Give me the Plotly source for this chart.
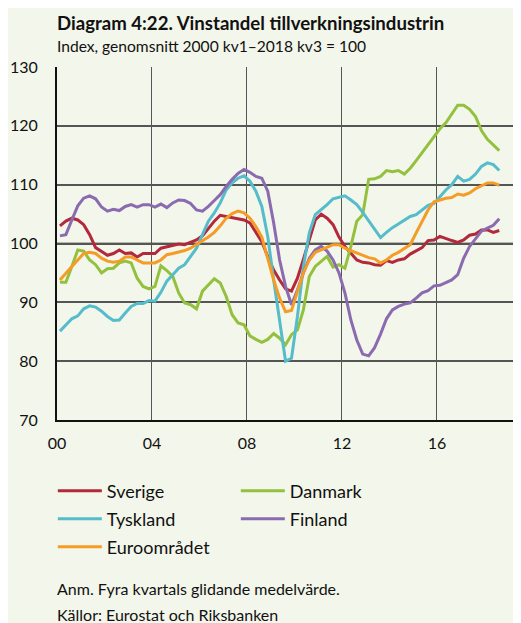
import plotly.graph_objects as go

# kvartal 2000 kv1 - 2018 kv3, fyra kvartals glidande medelvärde
quarters = [f"{2000 + i // 4}K{i % 4 + 1}" for i in range(75)]

sverige = [
    103.0, 103.8, 104.3, 104.0, 103.2, 101.5, 99.3, 98.7, 98.0, 98.3,
    98.9, 98.3, 98.4, 97.7, 98.3, 98.3, 98.3, 99.2, 99.4, 99.6,
    99.9, 99.8, 100.2, 100.6, 101.3, 102.5, 103.8, 104.8, 104.6, 104.5,
    104.3, 104.0, 103.5, 101.8, 100.3, 97.8, 95.5, 93.8, 92.3, 91.9,
    94.1, 97.3, 100.6, 104.0, 105.0, 104.3, 103.2, 101.1, 99.5, 98.3,
    97.2, 96.8, 96.7, 96.4, 96.3, 97.1, 96.8, 97.2, 97.4, 98.2,
    98.7, 99.3, 100.5, 100.6, 101.2, 100.8, 100.5, 100.2, 100.6, 101.4,
    101.6, 102.3, 102.3, 101.9, 102.2,
]
tyskland = [
    85.1, 86.2, 87.2, 87.7, 88.9, 89.4, 89.2, 88.5, 87.6, 86.9,
    87.0, 88.2, 89.3, 89.8, 89.8, 90.3, 90.2, 91.7, 93.6, 94.7,
    95.8, 96.4, 97.7, 99.2, 101.5, 103.8, 105.2, 106.9, 109.1, 110.3,
    111.1, 111.5, 110.6, 108.9, 106.3, 101.2, 93.8, 87.0, 80.0, 80.5,
    87.6, 96.1, 101.8, 104.9, 105.7, 106.6, 107.6, 107.8, 108.1, 107.4,
    106.6, 105.3, 103.9, 102.3, 101.0, 101.9, 102.7, 103.3, 104.0, 104.6,
    104.9, 105.7, 106.5, 106.8, 108.0, 109.1, 110.0, 111.4, 110.6, 110.9,
    111.8, 113.1, 113.7, 113.4, 112.4,
]
euroomradet = [
    93.8, 95.0, 96.1, 97.2, 98.3, 98.5, 98.3, 97.5, 97.0, 96.8,
    97.0, 97.7, 97.7, 97.2, 96.7, 96.7, 96.7, 97.2, 98.1, 98.3,
    98.5, 98.8, 99.2, 99.8, 100.4, 101.1, 101.9, 103.0, 104.3, 105.1,
    105.5, 105.2, 104.3, 102.9, 101.1, 97.5, 93.8, 90.7, 88.4, 88.6,
    91.6, 95.0, 97.2, 98.5, 98.9, 99.4, 99.8, 99.8, 99.2, 98.8,
    98.4, 98.1, 97.6, 97.4, 96.7, 97.2, 98.0, 98.5, 99.1, 99.8,
    101.8, 103.8, 105.7, 107.1, 107.4, 107.7, 107.8, 108.4, 108.2, 108.6,
    109.3, 109.8, 110.3, 110.3, 109.9,
]
danmark = [
    93.4, 93.4, 96.1, 98.9, 98.7, 97.2, 96.4, 95.0, 95.7, 95.8,
    96.7, 97.0, 96.7, 94.1, 92.7, 92.3, 92.7, 96.2, 95.4, 94.4,
    91.6, 89.9, 89.6, 88.9, 91.9, 93.0, 94.0, 93.3, 91.0, 87.9,
    86.5, 86.2, 84.3, 83.7, 83.2, 83.7, 84.7, 83.9, 82.8, 84.5,
    85.3, 88.7, 94.4, 96.1, 97.0, 97.8, 96.0, 96.4, 95.8, 99.5,
    103.8, 104.9, 110.9, 111.0, 111.4, 112.4, 112.2, 112.4, 111.8, 112.8,
    114.1, 115.4, 116.9, 118.2, 119.5, 120.5, 122.0, 123.5, 123.5, 122.8,
    121.6, 119.2, 117.7, 116.7, 115.8,
]
finland = [
    101.3, 101.5, 104.0, 106.4, 107.7, 108.1, 107.6, 106.2, 105.5, 105.8,
    105.6, 106.3, 106.6, 106.2, 106.6, 106.6, 106.2, 106.7, 106.1, 106.9,
    107.4, 107.3, 106.8, 105.7, 105.5, 106.3, 107.3, 108.3, 109.7, 110.9,
    111.9, 112.6, 112.1, 111.4, 111.1, 108.9, 103.5, 97.2, 92.7, 89.6,
    92.1, 95.0, 97.5, 98.9, 99.5, 98.7, 97.2, 95.0, 91.6, 87.0,
    83.6, 81.2, 80.9, 82.3, 84.6, 87.2, 88.7, 89.3, 89.7, 89.9,
    90.7, 91.6, 92.0, 92.8, 92.9, 93.3, 93.8, 94.7, 97.5, 99.5,
    100.9, 102.1, 102.6, 103.1, 104.2,
]

tick_years = [2000, 2004, 2008, 2012, 2016]
tick_labels = ["00", "04", "08", "12", "16"]
y_ticks = [70, 80, 90, 100, 110, 120, 130]

# kvartal placeras mitt i sitt intervall på en årsaxel
x = [int(q[:4]) + (int(q[-1]) - 1) * 0.25 + 0.125 for q in quarters]

font = "Lato"
bg = "#f3f6ea"

# (namn, data, färg, legend) - två kolumner i legenden, en legend per rad
series = [
    ("Sverige", sverige, "#b3283a", "legend"),
    ("Danmark", danmark, "#93c13e", "legend"),
    ("Tyskland", tyskland, "#55bccb", "legend2"),
    ("Finland", finland, "#8b6bb0", "legend2"),
    ("Euroområdet", euroomradet, "#f59c26", "legend3"),
]

fig = go.Figure()

# 100-linjen ljusare och tjockare
fig.add_shape(type="line", xref="paper", x0=0, x1=1, yref="y", y0=100, y1=100,
              line=dict(color="#b6b9aa", width=3), layer="below")

for name, vals, color, leg in series:
    fig.add_trace(go.Scatter(x=x, y=vals, name=name, mode="lines", legend=leg,
                             line=dict(color=color, width=3)))

# sidans body har 8 px marginal, därför 513x615
ph = 352.7  # plotytans höjd i px


def py(ref_y):
    return (420 - ref_y) / ph


leg_common = dict(orientation="h", x=-0.009, xanchor="left", yanchor="middle",
                  entrywidth=124, entrywidthmode="pixels", itemwidth=44,
                  font=dict(size=18), bgcolor="rgba(0,0,0,0)")

fig.update_layout(
    width=513, height=615,
    margin=dict(l=49, r=0, t=59, b=203),
    paper_bgcolor=bg, plot_bgcolor=bg,
    font=dict(family=font, color="#111111", size=16),
    showlegend=True,
    legend=dict(y=py(491), **leg_common),
    legend2=dict(y=py(519), **leg_common),
    legend3=dict(y=py(547), **leg_common),
)

fig.update_xaxes(range=[2000, 2019.54], tickvals=tick_years, ticktext=tick_labels,
                 showgrid=True, gridcolor="#555555", gridwidth=1,
                 showline=True, linecolor="#111111", linewidth=2,
                 zeroline=False, ticks="", tickfont=dict(size=16),
                 ticklabelstandoff=8)
fig.update_yaxes(range=[70, 130], tickvals=y_ticks,
                 showgrid=True, gridcolor="#555555", gridwidth=1.5,
                 showline=True, linecolor="#111111", linewidth=2,
                 zeroline=False, ticks="", tickfont=dict(size=16),
                 ticklabelstandoff=14)

# rubrik, underrubrik och noter
texts = [
    ("<b>Diagram 4:22. Vinstandel tillverkningsindustrin</b>", 23, 18.6),
    ("Index, genomsnitt 2000 kv1–2018 kv3 = 100", 46, 15.6),
    ("Anm. Fyra kvartals glidande medelvärde.", 588, 16),
    ("Källor: Eurostat och Riksbanken", 614, 16),
]
for txt, ty, fs in texts:
    fig.add_annotation(text=txt, xref="paper", yref="paper", x=0, y=py(ty),
                       xanchor="left", yanchor="middle", showarrow=False,
                       xshift=-2, font=dict(size=fs))

fig.write_html("out.html")
